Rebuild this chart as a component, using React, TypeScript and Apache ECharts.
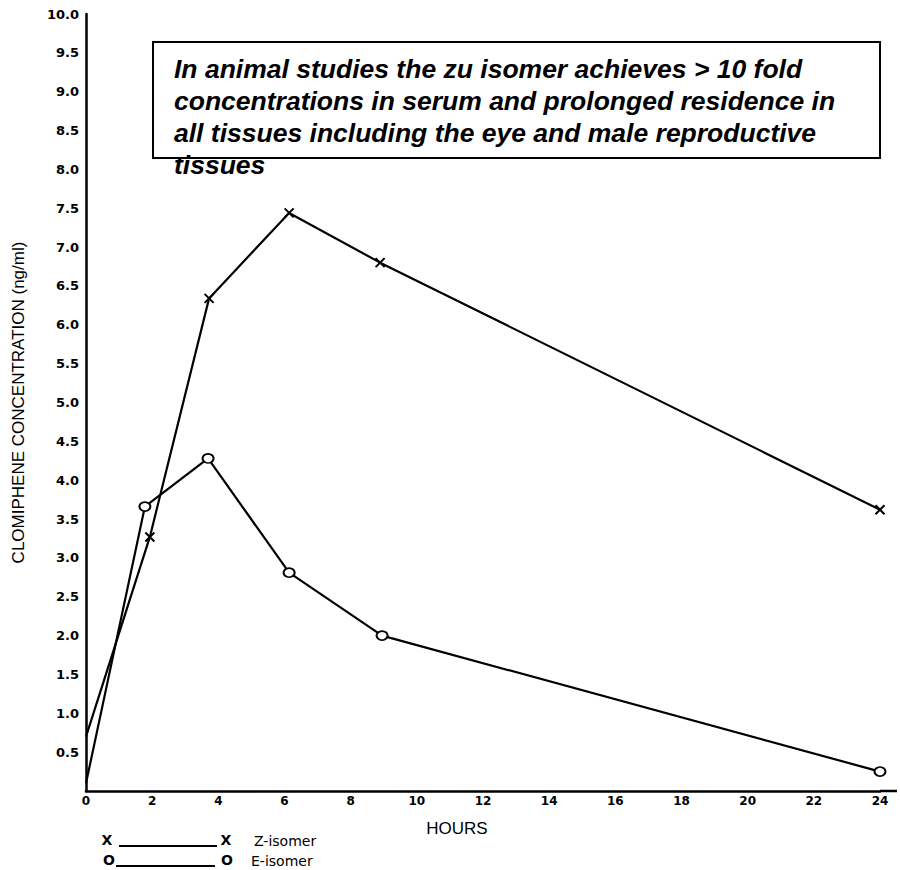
import React, { useEffect, useRef } from "react";
import * as echarts from "echarts";

const hoursZ = [0, 1.93, 3.72, 6.14, 8.89, 24];
const zIsomer = [0.7, 3.27, 6.34, 7.44, 6.8, 3.62];
const hoursE = [0, 1.78, 3.69, 6.14, 8.95, 24];
const eIsomer = [0.1, 3.66, 4.28, 2.81, 2.0, 0.25];

const yTitle = "CLOMIPHENE CONCENTRATION (ng/ml)";
const xTitle = "HOURS";
const noteLines = [
  "In animal studies the zu isomer achieves > 10 fold",
  "concentrations in serum and prolonged residence in",
  "all tissues including the eye and male reproductive",
  "tissues",
];
const legendNames = ["Z-isomer", "E-isomer"];

const ARIAL = "'Liberation Sans', Arial, sans-serif";
const DEJAVU = "'DejaVu Sans', sans-serif";

export default function App() {
  const ref = useRef<HTMLDivElement>(null);
  useEffect(() => {
    if (!ref.current) return;
    const chart = echarts.init(ref.current, null, { renderer: "svg" });
    // no marker drawn at the starting point (hour 0)
    const pairs = (xs: number[], ys: number[]) =>
      xs.map((x, i) => (x === 0 ? { value: [x, ys[i]], symbol: "none" } : { value: [x, ys[i]] }));
    const legendText = (text: string, x: number, y: number, align: string, weight = "normal") => ({
      type: "text",
      x,
      y,
      style: { text, font: `${weight} 14px ${DEJAVU}`, fill: "#000", textAlign: align, textVerticalAlign: "middle" },
    });
    chart.setOption({
      animation: false,
      backgroundColor: "#fff",
      textStyle: { fontFamily: ARIAL, color: "#000" },
      grid: { left: 86, right: 20, top: 14, bottom: 79, containLabel: false },
      xAxis: {
        type: "value",
        min: 0,
        max: 24,
        interval: 2,
        axisLine: { show: true, lineStyle: { color: "#000", width: 2.5 } },
        axisTick: { show: false },
        splitLine: { show: false },
        axisLabel: {
          margin: 4,
          fontFamily: DEJAVU,
          fontWeight: "bold",
          fontSize: 12,
          color: "#000",
        },
      },
      yAxis: {
        type: "value",
        min: 0,
        max: 10,
        interval: 0.5,
        name: yTitle,
        nameLocation: "middle",
        nameGap: 59,
        nameTextStyle: { fontFamily: ARIAL, fontSize: 17, color: "#000" },
        axisLine: { show: true, lineStyle: { color: "#000", width: 2.5 } },
        axisTick: { show: false },
        splitLine: { show: false },
        axisLabel: {
          margin: 7,
          fontFamily: DEJAVU,
          fontWeight: "bold",
          fontSize: 13,
          color: "#000",
          formatter: (v: number) => (v === 0 ? "" : v.toFixed(1)),
        },
      },
      series: [
        {
          name: legendNames[0],
          type: "line",
          data: pairs(hoursZ, zIsomer),
          symbol: "path://M0,0L10,10M10,0L0,10",
          symbolSize: [9, 9],
          showAllSymbol: true,
          lineStyle: { color: "#000", width: 2.2 },
          itemStyle: { color: "#000", borderColor: "#000", borderWidth: 2 },
          z: 3,
        },
        {
          name: legendNames[1],
          type: "line",
          data: pairs(hoursE, eIsomer),
          symbol: "circle",
          symbolSize: [11, 9],
          showAllSymbol: true,
          lineStyle: { color: "#000", width: 2.2 },
          itemStyle: { color: "#fff", borderColor: "#000", borderWidth: 1.8 },
          z: 4,
        },
      ],
      graphic: [
        {
          type: "rect",
          shape: { x: 153, y: 42, width: 727, height: 116 },
          style: { fill: "#fff", stroke: "#000", lineWidth: 2 },
          z: 10,
        },
        ...noteLines.map((t, i) => ({
          type: "text",
          x: 174,
          y: 69 + i * 32,
          style: {
            text: t,
            font: `italic bold 26.5px ${ARIAL}`,
            fill: "#000",
            textVerticalAlign: "middle",
            textAlign: "left",
          },
          z: 11,
        })),
        {
          type: "text",
          x: 457,
          y: 828,
          style: {
            text: xTitle,
            font: `17px ${ARIAL}`,
            fill: "#000",
            textAlign: "center",
            textVerticalAlign: "middle",
          },
        },
        {
          type: "line",
          shape: { x1: 880, y1: 791, x2: 897, y2: 791 },
          style: { stroke: "#000", lineWidth: 2.5 },
        },
        // legend row 1
        legendText("X", 107, 840, "center", "bold"),
        {
          type: "line",
          shape: { x1: 119, y1: 846, x2: 217, y2: 846 },
          style: { stroke: "#000", lineWidth: 1.8 },
        },
        legendText("X", 226, 840, "center", "bold"),
        legendText(legendNames[0], 254, 841, "left"),
        // legend row 2
        legendText("O", 109, 860, "center", "bold"),
        {
          type: "line",
          shape: { x1: 116, y1: 866, x2: 215, y2: 866 },
          style: { stroke: "#000", lineWidth: 1.8 },
        },
        legendText("O", 227, 860, "center", "bold"),
        legendText(legendNames[1], 251, 861, "left"),
      ],
    });
    return () => chart.dispose();
  }, []);
  return <div ref={ref} style={{ width: 900, height: 870, position: "absolute", left: 0, top: 0 }} />;
}
